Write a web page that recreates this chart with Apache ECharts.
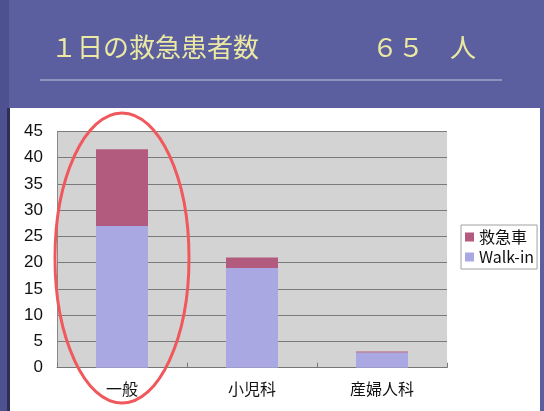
<!DOCTYPE html>
<html><head><meta charset="utf-8">
<script src="https://cdn.jsdelivr.net/npm/echarts@6/dist/echarts.min.js"></script>
<style>html,body{margin:0;padding:0;background:#5b5f9f;}#c{width:544px;height:411px;}</style>
</head><body><div id="c"></div>
<script>
const categories = ['一般', '小児科', '産婦人科'];
const walkIn = [27, 19, 2.9];
const ambulance = [14.6, 2, 0.2];
const yTicks = [0, 5, 10, 15, 20, 25, 30, 35, 40, 45];
const titleLeft = '１日の救急患者数';
const titleRight = '６５　人';

const chart = echarts.init(document.getElementById('c'), null, {renderer: 'canvas'});
const font = '"Noto Sans CJK JP", "Liberation Sans", Arial, sans-serif';
chart.setOption({
  animation: false,
  backgroundColor: '#5b5f9f',
  graphic: [
    {type: 'rect', z: -10, shape: {x: 0, y: 0, width: 9, height: 411}, style: {fill: '#4d5190'}},
    {type: 'rect', z: -10, shape: {x: 7, y: 108, width: 3, height: 303}, style: {fill: '#2d2f55'}},
    {type: 'rect', z: -10, shape: {x: 10, y: 108, width: 530, height: 303}, style: {fill: '#ffffff'}},
    {type: 'line', z: -5, shape: {x1: 40, y1: 80, x2: 502, y2: 80}, style: {stroke: '#c4c5e0', lineWidth: 1}},
    {type: 'text', z: 5, left: 51, top: 34, style: {text: titleLeft, fill: '#ece9a2', font: '26px ' + font}},
    {type: 'text', z: 5, left: 372, top: 34, style: {text: titleRight, fill: '#ece9a2', font: '26px ' + font}},
    {type: 'ellipse', z: 100, shape: {cx: 122, cy: 258, rx: 67, ry: 145}, style: {fill: 'none', stroke: '#f0585c', lineWidth: 3}}
  ],
  grid: {left: 57, right: 97, top: 131.5, bottom: 43.3, show: true, backgroundColor: '#d3d3d3', borderWidth: 0},
  legend: {
    orient: 'vertical', left: 461, top: 225, data: ['救急車', 'Walk-in'],
    itemWidth: 9, itemHeight: 9, itemGap: 4, icon: 'rect',
    borderColor: '#a0a0a0', borderWidth: 1, padding: [4, 3, 4, 4],
    backgroundColor: '#ffffff',
    textStyle: {fontSize: 16, color: '#111', fontFamily: font}
  },
  xAxis: {
    type: 'category', data: categories,
    axisLine: {lineStyle: {color: '#777'}},
    axisTick: {show: true, inside: true, length: 5, lineStyle: {color: '#777'}},
    axisLabel: {fontSize: 16, color: '#111', margin: 13, fontFamily: font}
  },
  yAxis: {
    type: 'value', min: 0, max: 45, interval: 5,
    axisLine: {show: true, lineStyle: {color: '#888'}},
    axisTick: {show: false},
    splitLine: {lineStyle: {color: '#7a7a7a', width: 1}},
    axisLabel: {fontSize: 17, color: '#111', margin: 14, fontFamily: '"Liberation Sans", Arial, sans-serif',
      formatter: v => yTicks.includes(v) ? String(v) : ''}
  },
  series: [
    {name: 'Walk-in', type: 'bar', stack: 's', data: walkIn, barWidth: '40%',
     itemStyle: {color: '#aaa8e2'}},
    {name: '救急車', type: 'bar', stack: 's', data: ambulance, barWidth: '40%',
     itemStyle: {color: '#b35b7f'}}
  ]
});
</script></body></html>
